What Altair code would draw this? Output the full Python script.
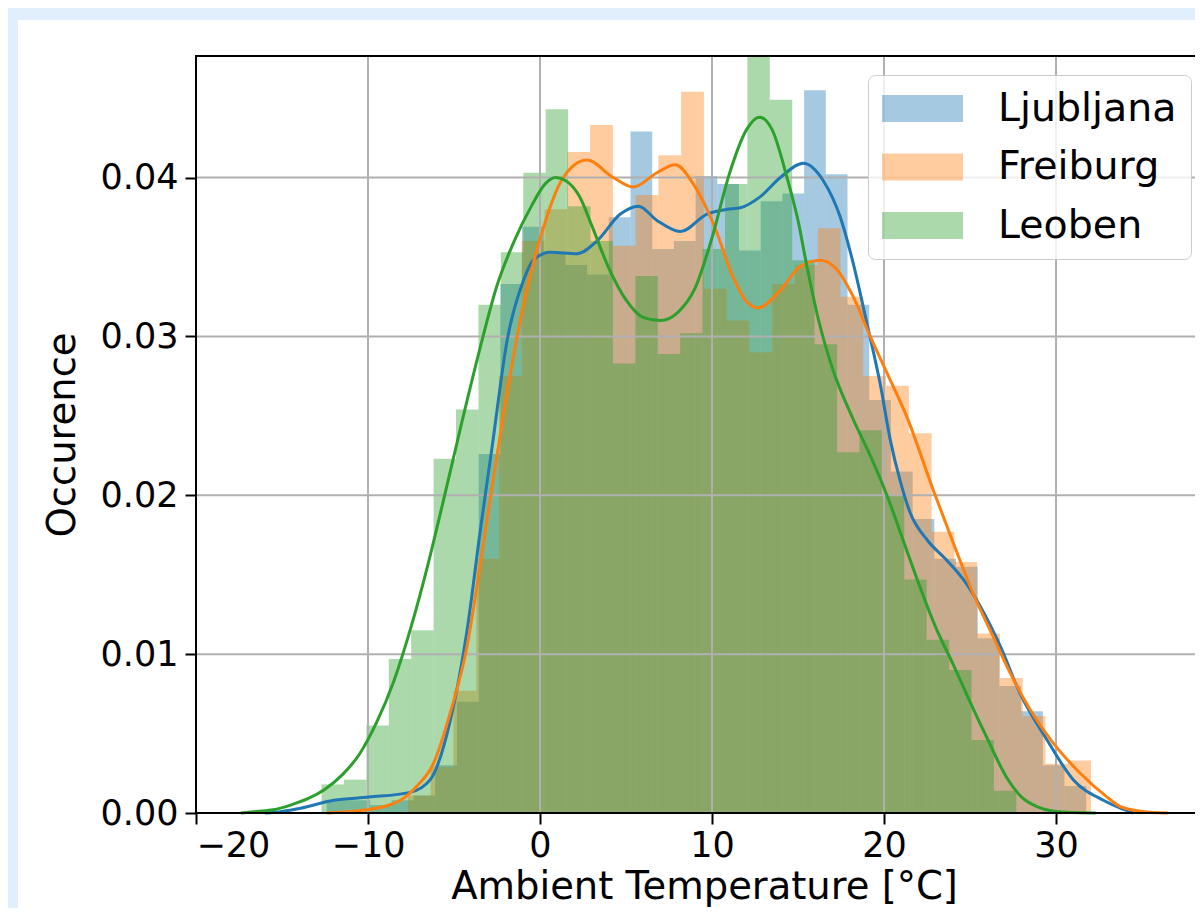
import altair as alt
import pandas as pd

CITIES = ["Ljubljana", "Freiburg", "Leoben"]
COLORS = ["#1f77b4", "#ff7f0e", "#2ca02c"]

# Histogram bins: left edge of first bin [°C], bin width [°C], densities
LJ_START, LJ_WIDTH = -12.40, 1.2616
LJ_HEIGHTS = [0.0008, 0.0008, 0.0005, 0.0008, 0.0011, 0.0030, 0.0070, 0.0226, 0.0333,
              0.0369, 0.0352, 0.0345, 0.0339, 0.0375, 0.0429, 0.0355, 0.0360, 0.0401,
              0.0396, 0.0354, 0.0385, 0.0390, 0.0455, 0.0402, 0.0320, 0.0260, 0.0215,
              0.0185, 0.0160, 0.0155, 0.0110, 0.0080, 0.0064, 0.0030, 0.0017]
FR_START, FR_WIDTH = -7.68, 1.3237
FR_HEIGHTS = [0.0011, 0.0029, 0.0077, 0.0160, 0.0275, 0.0360, 0.0380, 0.0416, 0.0433,
              0.0357, 0.0389, 0.0414, 0.0454, 0.0330, 0.0310, 0.0290, 0.0333, 0.0345,
              0.0368, 0.0325, 0.0275, 0.0269, 0.0239, 0.0177, 0.0158, 0.0113, 0.0085,
              0.0061, 0.0031, 0.0033]
LE_START, LE_WIDTH = -12.70, 1.303
LE_HEIGHTS = [0.0018, 0.0021, 0.0055, 0.0097, 0.0115, 0.0223, 0.0254, 0.0320, 0.0353,
              0.0403, 0.0443, 0.0382, 0.0360, 0.0283, 0.0338, 0.0289, 0.0302, 0.0355,
              0.0396, 0.0480, 0.0449, 0.0348, 0.0295, 0.0227, 0.0241, 0.0200, 0.0147,
              0.0109, 0.0090, 0.0046, 0.0014]

# KDE curves: temperature, density
LJ_KDE_T = [-16.0, -15.0, -13.92, -12.0, -9.94, -7.54, -6.38, -5.22, -4.24, -3.47, -2.79,
            -1.92, -0.97, -0.39, 0.60, 2.15, 3.31, 4.67, 5.72, 6.80, 8.16, 9.71, 10.87,
            11.65, 12.81, 13.97, 15.31, 16.47, 17.46, 18.21, 19.01, 19.78, 20.36, 20.94,
            21.52, 22.5, 23.66, 24.61, 25.6, 26.76, 27.92, 29.48, 31.0, 32.75, 33.74, 34.5]
LJ_KDE_D = [0.0, 0.0001, 0.0003, 0.0008, 0.0010, 0.0013, 0.0021, 0.0058, 0.0115, 0.0178,
            0.0230, 0.0297, 0.0335, 0.0348, 0.0353, 0.0352, 0.0360, 0.0377, 0.0382, 0.0373,
            0.0366, 0.0377, 0.0380, 0.0381, 0.0388, 0.0400, 0.0409, 0.0398, 0.0375, 0.0346,
            0.0308, 0.0270, 0.0235, 0.0209, 0.0189, 0.0172, 0.0159, 0.0147, 0.0130, 0.0105,
            0.0075, 0.0046, 0.0021, 0.0008, 0.0003, 0.0]
FR_KDE_T = [-12.4, -10.06, -8.12, -7.15, -6.2, -5.22, -4.24, -3.47, -2.72, -2.13, -1.15,
            0.02, 1.35, 2.73, 4.26, 5.42, 6.80, 7.87, 8.91, 10.08, 11.24, 12.0, 12.7, 13.97,
            15.13, 16.3, 17.27, 18.21, 19.2, 20.17, 21.34, 22.87, 24.03, 25.19, 26.35,
            27.34, 28.5, 29.84, 31.41, 32.97, 33.74, 35.0, 36.5]
FR_KDE_D = [0.0, 0.0002, 0.0008, 0.0017, 0.0031, 0.0063, 0.0105, 0.0157, 0.0210, 0.0250,
            0.0310, 0.0362, 0.0400, 0.0411, 0.0400, 0.0394, 0.0403, 0.0408, 0.0396, 0.0371,
            0.0337, 0.0322, 0.0318, 0.0329, 0.0344, 0.0348, 0.0342, 0.0325, 0.0300, 0.0277,
            0.0249, 0.0203, 0.0170, 0.0138, 0.0111, 0.0088, 0.0065, 0.0044, 0.0025, 0.0010,
            0.0004, 0.0001, 0.0]
LE_KDE_T = [-17.4, -16.5, -15.5, -14.5, -13.5, -12.5, -11.5, -10.5, -9.5, -8.5, -7.5, -6.5,
            -5.5, -4.5, -3.5, -2.5, -1.5, -0.5, 0.3, 0.9, 1.5, 2.3, 3.0, 4.0, 5.0, 6.0, 7.0,
            8.0, 9.0, 10.0, 11.0, 12.0, 12.75, 13.5, 14.36, 15.0, 15.52, 16.2, 17.0, 18.2,
            19.2, 20.17, 21.1, 22.1, 23.0, 24.0, 25.0, 26.0, 27.15, 28.0, 28.9, 30.0, 32.3]
LE_KDE_D = [0.0, 0.0001, 0.0002, 0.0005, 0.0009, 0.0015, 0.0024, 0.0037, 0.0057, 0.0083,
            0.0117, 0.0157, 0.0202, 0.0248, 0.0292, 0.0332, 0.0360, 0.0382, 0.0396, 0.0400,
            0.0398, 0.0388, 0.0370, 0.0343, 0.0323, 0.0312, 0.0310, 0.0315, 0.0330, 0.0362,
            0.0402, 0.0430, 0.0438, 0.0430, 0.0400, 0.0373, 0.0344, 0.0310, 0.0280, 0.0248,
            0.0225, 0.0200, 0.0172, 0.0142, 0.0117, 0.0094, 0.0070, 0.0047, 0.0022, 0.0010,
            0.0004, 0.0001, 0.0]

X_TICKS = [-20, -10, 0, 10, 20, 30]
Y_TICKS = [0.0, 0.01, 0.02, 0.03, 0.04]
X_DOMAIN = [-20, 38.08]
Y_DOMAIN = [0.0, 0.04765]
X_AXES_END = 40  # the axes box continues past the right edge of the picture

X_TITLE = "Ambient Temperature [°C]"
Y_TITLE = "Occurence"
FONT = "DejaVu Sans"

W, H = 999, 757

# ---- tables -------------------------------------------------------------
bar_rows = []
for city, start, width, heights in [
    ("Ljubljana", LJ_START, LJ_WIDTH, LJ_HEIGHTS),
    ("Freiburg", FR_START, FR_WIDTH, FR_HEIGHTS),
    ("Leoben", LE_START, LE_WIDTH, LE_HEIGHTS),
]:
    for k, h in enumerate(heights):
        bar_rows.append({"city": city, "x0": start + k * width,
                         "x1": start + (k + 1) * width, "d": h, "base": 0.0})
bars_df = pd.DataFrame(bar_rows)

kde = {
    "Ljubljana": pd.DataFrame({"t": LJ_KDE_T, "d": LJ_KDE_D}),
    "Freiburg": pd.DataFrame({"t": FR_KDE_T, "d": FR_KDE_D}),
    "Leoben": pd.DataFrame({"t": LE_KDE_T, "d": LE_KDE_D}),
}

xscale = alt.Scale(domain=X_DOMAIN, nice=False, zero=False)
yscale = alt.Scale(domain=Y_DOMAIN, nice=False, zero=False)

xaxis = alt.Axis(values=X_TICKS, grid=False, domain=False, tickColor="black",
                 tickSize=11, tickWidth=2, labelFont=FONT, labelFontSize=35,
                 labelColor="black", labelPadding=4, title=X_TITLE, titleFont=FONT,
                 titleFontSize=38.5, titleFontWeight="normal", titleColor="black",
                 titlePadding=5, titleX=508, zindex=1, format="d")
yaxis = alt.Axis(values=Y_TICKS, grid=False, domain=False, tickColor="black",
                 tickSize=11, tickWidth=2, labelFont=FONT, labelFontSize=35,
                 labelColor="black", labelPadding=7, format=".2f", title=Y_TITLE,
                 titleFont=FONT, titleFontSize=38.5, titleFontWeight="normal",
                 titleColor="black", titlePadding=18, zindex=1)


def X(field):
    return alt.X(field, type="quantitative", scale=xscale, axis=xaxis, title=X_TITLE)


def Y(field):
    return alt.Y(field, type="quantitative", scale=yscale, axis=yaxis, title=Y_TITLE)


one = pd.DataFrame({"a": [0]})

# white card behind the figure
card = alt.Chart(one).mark_rect(fill="white", clip=False).encode(
    x=alt.value(-178), x2=alt.value(W + 50), y=alt.value(-36), y2=alt.value(H + 200)
)

legend = alt.Legend(
    title=None, orient="none", legendX=672, legendY=19,
    labelFont=FONT, labelFontSize=39.5, labelColor="black", labelLimit=400,
    symbolType="M-1,-0.333H1V0.333H-1Z", symbolSize=6561, symbolStrokeWidth=0,
    symbolOpacity=0.4, clipHeight=39, rowPadding=18.5, labelOffset=35,
    padding=14, strokeColor="#cccccc", fillColor="rgba(255,255,255,0.8)",
    cornerRadius=7,
)

bars = alt.Chart(bars_df).mark_rect(opacity=0.4, clip=True).encode(
    x=X("x0"), x2="x1", y=Y("d"), y2="base",
    color=alt.Color("city:N", scale=alt.Scale(domain=CITIES, range=COLORS), legend=legend),
)

vgrid = alt.Chart(pd.DataFrame({"t": X_TICKS})).mark_rule(
    color="#b0b0b0", strokeWidth=2).encode(x=X("t"))
hgrid = alt.Chart(pd.DataFrame({"v": Y_TICKS})).mark_rule(
    color="#b0b0b0", strokeWidth=2).encode(y=Y("v"))

lines = []
for city, color in zip(CITIES, COLORS):
    lines.append(
        alt.Chart(kde[city]).mark_line(color=color, strokeWidth=3, interpolate="monotone").encode(
            x=X("t"), y=Y("d"))
    )

frame = alt.Chart(pd.DataFrame({"x0": [X_DOMAIN[0]], "x1": [X_AXES_END],
                                "y0": [Y_DOMAIN[0]], "y1": [Y_DOMAIN[1]]})).mark_rect(
    fillOpacity=0, stroke="black", strokeWidth=2, clip=False).encode(
    x=X("x0"), x2="x1", y=Y("y0"), y2="y1")

chart = alt.layer(card, bars, vgrid, hgrid, *lines, frame).properties(
    width=W, height=H,
    padding={"left": 188, "top": 48, "right": 0, "bottom": 95},
    autosize=alt.AutoSizeParams(type="none"),
    background="#e1effc",
).configure_view(strokeWidth=0)

chart.save("out.html", embed_options={"renderer": "svg", "actions": False})
